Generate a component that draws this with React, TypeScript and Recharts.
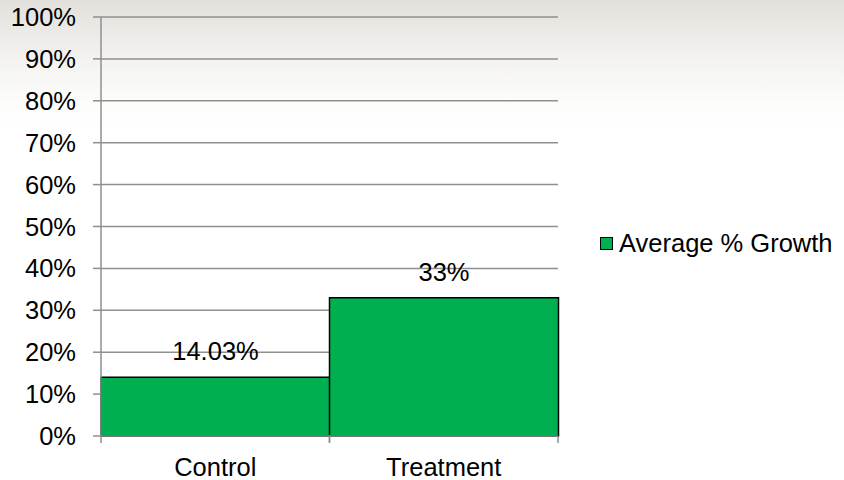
import { BarChart, Bar, XAxis, YAxis, CartesianGrid, Legend, LabelList } from 'recharts';

const groups = ['Control', 'Treatment'];
const growth = [0.1403, 0.33];
const yTicks = [0, 0.1, 0.2, 0.3, 0.4, 0.5, 0.6, 0.7, 0.8, 0.9, 1];
const seriesName = 'Average % Growth';

const data = groups.map((group, i) => ({ group, growth: growth[i] }));

const FONT = '"Liberation Sans", Arial, sans-serif';
const FS = 25.5;
const GRID = '#8f8f8f';
const GREEN = '#00B050';

const pct = (v: number) => `${+(v * 100).toFixed(2)}%`;

// category label plus tick marks on both edges of the band
function GroupTick(props: any) {
  const { x, y, payload } = props;
  const half = payload?.offset ?? 0;
  return (
    <g>
      <line x1={x - half} x2={x - half} y1={y} y2={y + 7} stroke={GRID} strokeWidth={1.5} />
      <line x1={x + half} x2={x + half} y1={y} y2={y + 7} stroke={GRID} strokeWidth={1.5} />
      <text x={x} y={y + 40} textAnchor="middle" fontSize={FS} fill="#000" fontFamily={FONT}>
        {payload.value}
      </text>
    </g>
  );
}

function LegendBox() {
  return (
    <div style={{ display: 'flex', alignItems: 'center', fontFamily: FONT, fontSize: FS, color: '#000', whiteSpace: 'nowrap' }}>
      <span style={{ width: 11, height: 11, background: GREEN, border: '1px solid #000', marginRight: 6 }} />
      {seriesName}
    </div>
  );
}

export default function App() {
  return (
    <div
      style={{
        position: 'absolute',
        left: 0,
        top: 0,
        width: 844,
        height: 480,
        background: 'linear-gradient(to bottom, #e3e0db 0%, #f3f2ef 12%, #fdfdfc 22%, #ffffff 28%)',
      }}
    >
      <BarChart
        width={844}
        height={480}
        data={data}
        margin={{ top: 17, right: 286, bottom: 0, left: 8 }}
        barCategoryGap={0}
        style={{ fontFamily: FONT }}
      >
        <CartesianGrid vertical={false} stroke={GRID} strokeWidth={1.5} />
        <XAxis
          dataKey="group"
          height={44}
          axisLine={{ stroke: GRID, strokeWidth: 1.5 }}
          tickLine={false}
          tickSize={0}
          tickMargin={0}
          tick={<GroupTick />}
          interval={0}
        />
        <YAxis
          domain={[0, 1]}
          ticks={yTicks}
          tickFormatter={(v: number) => `${Math.round(v * 100)}%`}
          width={93}
          tickSize={8}
          tickMargin={17}
          axisLine={{ stroke: GRID, strokeWidth: 1.5 }}
          tickLine={{ stroke: GRID, strokeWidth: 1.5 }}
          tick={{ fontSize: FS, fill: '#000', fontFamily: FONT }}
        />
        <Legend
          layout="horizontal"
          align="center"
          verticalAlign="middle"
          content={<LegendBox />}
          wrapperStyle={{ left: 600, top: 229, width: 'auto' }}
        />
        <Bar dataKey="growth" name={seriesName} fill={GREEN} stroke="#000" strokeWidth={1.5} isAnimationActive={false}>
          <LabelList
            dataKey="growth"
            position="top"
            offset={17}
            formatter={(v: any) => pct(Number(v))}
            style={{ fontSize: FS, fill: '#000', fontFamily: FONT }}
          />
        </Bar>
      </BarChart>
    </div>
  );
}
